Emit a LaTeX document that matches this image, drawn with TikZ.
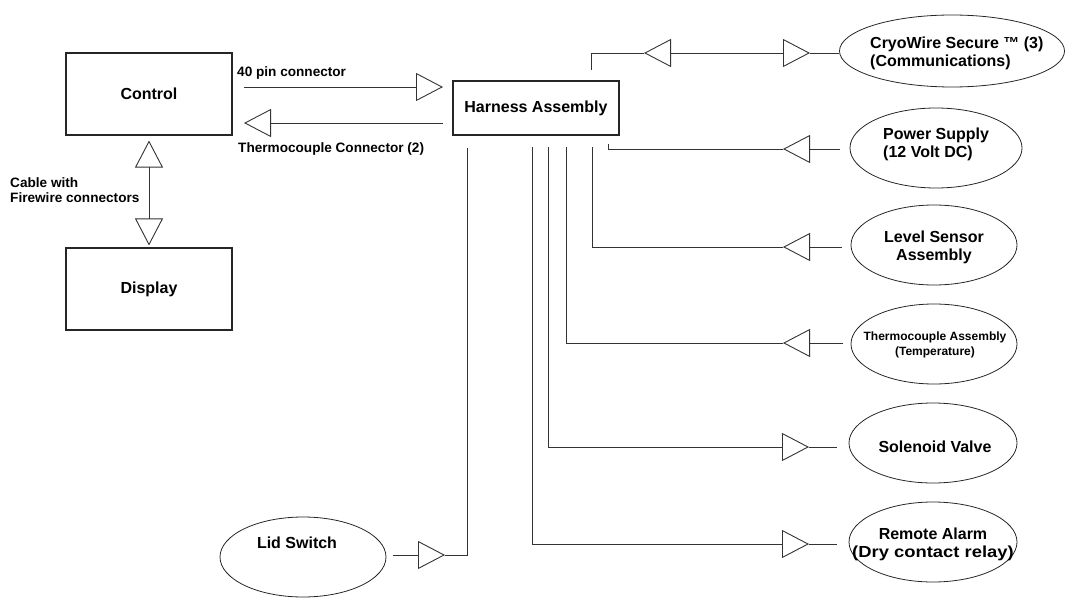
\documentclass[tikz,border=0pt]{standalone}
\usepackage{fontspec}
\setmainfont{Liberation Sans}
\usetikzlibrary{arrows.meta,shapes.geometric}
\begin{document}
\begin{tikzpicture}[x=1pt,y=-1pt,
  box/.style={draw=black!85, line width=1.1pt, minimum width=166pt, inner sep=0pt,
    font=\fontsize{16}{18}\selectfont\bfseries},
  ell/.style={draw=black!85, line width=0.8pt, ellipse, inner sep=0pt,
    minimum width=166pt, minimum height=80pt},
  wire/.style={draw=black!80, line width=0.9pt},
  tip/.style={-{Triangle[open,length=27pt,width=28pt]}},
  both/.style={{Triangle[open,length=27pt,width=28pt]}-{Triangle[open,length=27pt,width=28pt]}},
  lbl/.style={inner sep=0pt, anchor=west, font=\fontsize{13.6}{15}\selectfont\bfseries, align=left},
  txt/.style={inner sep=0pt, font=\fontsize{16}{18}\selectfont\bfseries, align=center},
]
\useasboundingbox (0,0) rectangle (1071,599);

% boxes
\node[box, minimum height=82pt] (ctrl) at (149,94) {Control};
\node[box, minimum height=82pt] (disp) at (149,289) {Display};
\node[box, minimum height=54pt] (harn) at (536,108) {Harness Assembly};

% ellipses
\node[ell, minimum width=225pt, minimum height=72pt] (cryo) at (952,51) {};
\node[ell, minimum width=172pt] (power) at (936,148) {};
\node[ell] (level) at (934,245) {};
\node[ell] (thermo) at (934,344) {};
\node[ell, minimum width=168pt] (sol) at (933,443) {};
\node[ell, minimum width=168pt] (remote) at (933,542) {};
\node[ell] (lid) at (303,557) {};

% ellipse texts
\node[txt, anchor=west, align=left] (cryotxt) at (870,53.5) {CryoWire Secure ™ (3)\\(Communications)};
\node[txt, anchor=west, align=left] (powertxt) at (883,144) {Power Supply\\(12 Volt DC)};
\node[txt] (leveltxt) at (934,247) {Level Sensor\\Assembly};
\node[txt, font=\fontsize{12}{15}\selectfont\bfseries] (thermotxt) at (935,344.5)
  {Thermocouple Assembly\\(Temperature)};
\node[txt] (soltxt) at (935,447) {Solenoid Valve};
\node[txt] (remotetxt) at (933,544.5) {Remote Alarm\\\scalebox{1.15}[1]{(Dry contact relay)}};
\node[txt] (lidtxt) at (297,543) {Lid Switch};

% labels
\node[lbl] (l40) at (237,73) {40 pin connector};
\node[lbl] (ltc) at (238,149) {Thermocouple Connector (2)};
\node[lbl] (lcab) at (10,190.5) {Cable with\\Firewire connectors};

% control <-> harness
\coordinate (a1) at (244,87);  \coordinate (a2) at (443,87);
\draw[wire,tip] (a1) -- (a2);
\coordinate (b1) at (443,123); \coordinate (b2) at (244,123);
\draw[wire,tip] (b1) -- (b2);

% control <-> display
\draw[wire,both] ([yshift=-5pt]ctrl.south) -- ([yshift=2pt]disp.north);

% cryowire
\coordinate (c0) at (591,70); \coordinate (c1) at (644,53); \coordinate (c2) at (810,53);
\draw[wire] (c0) |- (c1);
\draw[wire,both] (c1) -- (c2);
\draw[wire] (c2) -- (c2 -| cryo.west);

% power supply
\coordinate (p0) at (608,144); \coordinate (p1) at (783,149); \coordinate (p2) at (840,149);
\draw[wire] (p0) |- (p1);
\draw[wire,tip] (p2) -- (p1);

% level sensor
\coordinate (v0) at (592,147); \coordinate (v1) at (783,247); \coordinate (v2) at (842,247);
\draw[wire] (v0) |- (v1);
\draw[wire,tip] (v2) -- (v1);

% thermocouple assembly
\coordinate (t0) at (566,147); \coordinate (t1) at (783,343); \coordinate (t2) at (843,343);
\draw[wire] (t0) |- (t1);
\draw[wire,tip] (t2) -- (t1);

% solenoid valve
\coordinate (s0) at (548,147); \coordinate (s1) at (809,447); \coordinate (s2) at (837,447);
\draw[wire,tip] (s0) |- (s1);
\draw[wire] (s1) -- (s2);

% remote alarm
\coordinate (r0) at (532,147); \coordinate (r1) at (809,544); \coordinate (r2) at (837,544);
\draw[wire,tip] (r0) |- (r1);
\draw[wire] (r1) -- (r2);

% lid switch
\coordinate (d0) at (467,148); \coordinate (d1) at (445,555); \coordinate (d2) at (393,555);
\draw[wire,tip] (d2) -- (d1);
\draw[wire] (d1) -| (d0);
\end{tikzpicture}
\end{document}
